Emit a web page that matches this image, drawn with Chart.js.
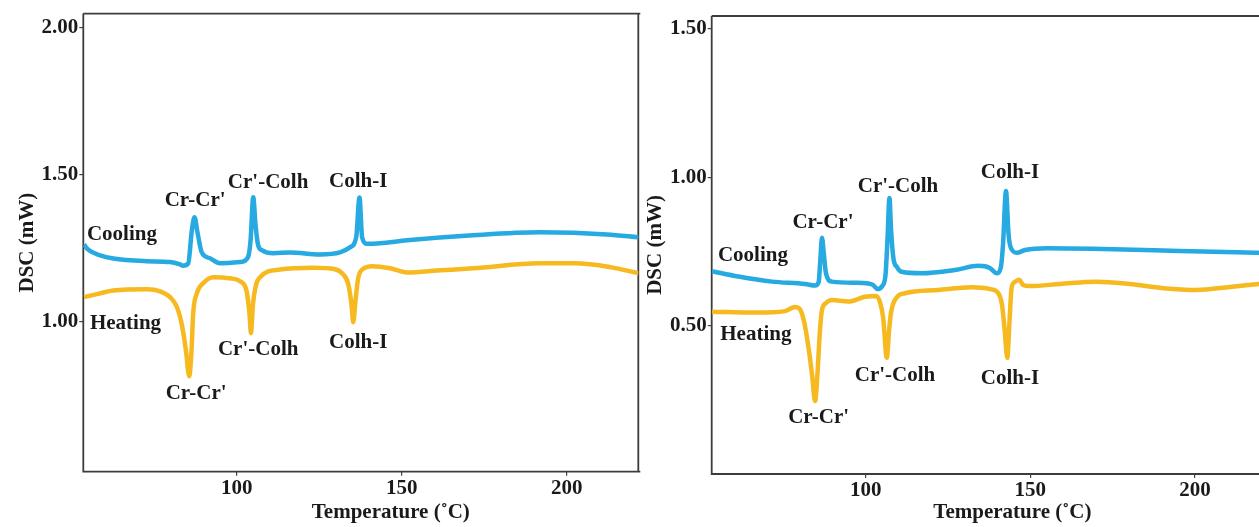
<!DOCTYPE html>
<html>
<head>
<meta charset="utf-8">
<script src="https://cdn.jsdelivr.net/npm/chart.js@4.4.0/dist/chart.umd.min.js"></script>
<style>
  html, body { margin: 0; padding: 0; background: #fff; width: 1259px; height: 527px; overflow: hidden; }
  canvas { position: absolute; top: 0; }
  #dscA { left: 0; }
  #dscB { left: 628px; }
</style>
</head>
<body>
<canvas id="dscA" width="645" height="527"></canvas>
<canvas id="dscB" width="640" height="527"></canvas>
<script>
// ---- Panel A: cooling and heating scans ----
const tempCoolA = [53.7, 54.9, 58.6, 62.6, 72.7, 79.8, 82.8, 83.7, 85.3, 86.4, 87.2, 88.1, 89.4, 91.9, 94.9,
  101.0, 103.4, 104.2, 105.0, 105.7, 106.5, 107.7, 111.1, 116.2, 125.2, 131.3, 134.3, 136.2, 137.2, 138.0,
  139.5, 143.4, 151.6, 171.6, 191.9, 212.2, 221.9];
const dscCoolA = [1.263, 1.246, 1.226, 1.215, 1.206, 1.203, 1.195, 1.191, 1.199, 1.311, 1.355, 1.304, 1.236, 1.216, 1.199,
  1.203, 1.219, 1.277, 1.423, 1.328, 1.260, 1.243, 1.233, 1.236, 1.229, 1.236, 1.253, 1.287, 1.422, 1.287,
  1.265, 1.267, 1.277, 1.294, 1.304, 1.297, 1.287];
const tempHeatA = [53.7, 58.6, 62.5, 72.8, 76.8, 79.8, 81.9, 83.4, 84.6, 85.6, 86.3, 86.8, 87.9, 89.8, 92.9,
  98.0, 101.0, 103.0, 103.9, 104.3, 104.9, 105.8, 107.1, 113.1, 123.2, 129.8, 132.2, 133.8, 134.8, 135.3,
  136.0, 136.8, 138.6, 141.0, 146.5, 151.6, 161.6, 171.7, 192.0, 202.6, 213.2, 221.9];
const dscHeatA = [1.084, 1.097, 1.107, 1.111, 1.104, 1.084, 1.050, 0.989, 0.904, 0.816, 0.904, 1.029, 1.097, 1.131, 1.152,
  1.148, 1.138, 1.104, 1.023, 0.962, 1.057, 1.124, 1.152, 1.178, 1.184, 1.179, 1.162, 1.128, 1.057, 0.999,
  1.073, 1.148, 1.182, 1.189, 1.182, 1.168, 1.175, 1.182, 1.199, 1.199, 1.186, 1.165];
const xTicksA = [100, 150, 200];
const yTicksA = [1.00, 1.50, 2.00];

// ---- Panel B: cooling and heating scans ----
const tempCoolB = [53.2, 61.3, 71.5, 81.6, 84.6, 85.7, 86.2, 86.7, 87.3, 87.9, 89.7, 96.8, 100.8, 102.2, 103.6,
  105.0, 106.0, 106.6, 107.2, 107.7, 108.4, 109.5, 110.9, 117.0, 127.1, 134.2, 137.7, 139.8, 141.0, 141.7,
  142.6, 143.4, 144.1, 145.9, 148.4, 155.0, 175.2, 195.4, 221.3];
const dscCoolB = [0.684, 0.666, 0.649, 0.641, 0.636, 0.648, 0.722, 0.796, 0.738, 0.678, 0.649, 0.645, 0.643, 0.638, 0.624,
  0.634, 0.671, 0.789, 0.930, 0.822, 0.728, 0.698, 0.682, 0.677, 0.688, 0.702, 0.695, 0.677, 0.695, 0.772,
  0.953, 0.806, 0.762, 0.746, 0.755, 0.761, 0.758, 0.752, 0.745];
const tempHeatB = [53.2, 66.4, 75.5, 78.5, 80.0, 81.3, 82.5, 83.7, 84.6, 85.4, 86.0, 86.7, 87.9, 89.7, 94.7,
  99.8, 103.1, 104.3, 105.3, 106.4, 107.1, 107.7, 109.4, 111.9, 122.0, 132.2, 137.8, 140.3, 141.4, 142.2,
  143.0, 143.7, 144.3, 145.3, 146.6, 147.8, 149.9, 159.0, 170.1, 180.2, 190.4, 200.5, 210.6, 221.3];
const dscHeatB = [0.548, 0.545, 0.550, 0.564, 0.557, 0.513, 0.436, 0.335, 0.248, 0.352, 0.470, 0.554, 0.577, 0.587, 0.582,
  0.598, 0.601, 0.581, 0.527, 0.393, 0.487, 0.547, 0.596, 0.610, 0.621, 0.630, 0.624, 0.610, 0.571, 0.487,
  0.393, 0.520, 0.628, 0.648, 0.655, 0.638, 0.634, 0.641, 0.649, 0.641, 0.627, 0.621, 0.631, 0.644];
const xTicksB = [100, 150, 200];
const yTicksB = [0.50, 1.00, 1.50];

// Transition labels, placed in data coordinates
const notesA = [
  { text: 'Cooling',  x: 54.6,  y: 1.297, align: 'left' },
  { text: "Cr-Cr'",   x: 87.4,  y: 1.413, align: 'center' },
  { text: "Cr'-Colh", x: 109.5, y: 1.474, align: 'center' },
  { text: 'Colh-I',   x: 136.8, y: 1.477, align: 'center' },
  { text: 'Heating',  x: 55.5,  y: 0.996, align: 'left' },
  { text: "Cr'-Colh", x: 106.5, y: 0.907, align: 'center' },
  { text: "Cr-Cr'",   x: 87.7,  y: 0.758, align: 'center' },
  { text: 'Colh-I',   x: 136.8, y: 0.931, align: 'center' }
];
const notesB = [
  { text: 'Cooling',  x: 55.1,  y: 0.738, align: 'left' },
  { text: "Cr-Cr'",   x: 87.0,  y: 0.846, align: 'center' },
  { text: "Cr'-Colh", x: 109.8, y: 0.967, align: 'center' },
  { text: 'Colh-I',   x: 143.8, y: 1.014, align: 'center' },
  { text: 'Heating',  x: 55.8,  y: 0.470, align: 'left' },
  { text: "Cr'-Colh", x: 108.9, y: 0.332, align: 'center' },
  { text: "Cr-Cr'",   x: 85.7,  y: 0.191, align: 'center' },
  { text: 'Colh-I',   x: 143.8, y: 0.325, align: 'center' }
];

const SERIF = '"Liberation Serif", "Times New Roman", serif';
const BLUE = '#27a9e1';
const GOLD = '#f6b920';
const INK = '#1a1a1a';

const zip = (xs, ys) => xs.map((x, i) => ({ x, y: ys[i] }));

// Box around the plot area; the right side can be left open
function framePlugin(drawRight) {
  return {
    id: 'frame',
    beforeDatasetsDraw(chart) {
      const { ctx, chartArea: a } = chart;
      ctx.save();
      ctx.strokeStyle = '#3c3c3c';
      ctx.lineWidth = 1.8;
      ctx.beginPath();
      if (drawRight) {
        ctx.moveTo(a.right, a.top);
        ctx.lineTo(a.right, a.bottom);
      }
      ctx.moveTo(a.left, a.top);
      ctx.lineTo(a.right + 2, a.top);
      ctx.moveTo(a.left, a.top);
      ctx.lineTo(a.left, a.bottom);
      ctx.lineTo(a.right + 2, a.bottom);
      ctx.stroke();
      ctx.restore();
    }
  };
}

// Transition labels plus the temperature axis title (set a little right of centre)
function notesPlugin(notes, titleShift) {
  return {
    id: 'notes',
    afterDatasetsDraw(chart) {
      const { ctx, scales, chartArea: a } = chart;
      ctx.save();
      ctx.font = 'bold 21px ' + SERIF;
      ctx.fillStyle = INK;
      ctx.textBaseline = 'middle';
      notes.forEach(n => {
        ctx.textAlign = n.align;
        ctx.fillText(n.text, scales.x.getPixelForValue(n.x), scales.y.getPixelForValue(n.y));
      });
      ctx.textAlign = 'center';
      ctx.fillText('Temperature (˚C)', (a.left + a.right) / 2 + titleShift, 513);
      ctx.restore();
    }
  };
}

function makePanel(canvasId, cool, heat, xr, yr, xTicks, yTicks, notes, box) {
  const tickFont = { family: SERIF, size: 21, weight: 'bold' };
  const titleFont = { family: SERIF, size: 21, weight: 'bold' };
  return new Chart(document.getElementById(canvasId), {
    type: 'line',
    data: {
      datasets: [
        { label: 'Cooling', data: cool, borderColor: BLUE, borderWidth: 4.5, pointRadius: 0,
          cubicInterpolationMode: 'monotone', fill: false },
        { label: 'Heating', data: heat, borderColor: GOLD, borderWidth: 4.5, pointRadius: 0,
          cubicInterpolationMode: 'monotone', fill: false }
      ]
    },
    options: {
      responsive: false,
      animation: false,
      devicePixelRatio: 1,
      layout: { padding: { left: 0, top: box.top, right: box.right, bottom: 0 } },
      plugins: { legend: { display: false }, tooltip: { enabled: false } },
      scales: {
        x: {
          type: 'linear', min: xr[0], max: xr[1],
          afterBuildTicks: s => { s.ticks = xTicks.map(v => ({ value: v })); },
          afterFit: s => { s.height = box.xh; },
          border: { display: false },
          grid: { drawOnChartArea: false, drawTicks: true, tickLength: 4, color: '#444', lineWidth: 1.2 },
          ticks: { font: tickFont, color: INK, padding: 0, maxRotation: 0, callback: v => String(v) },
          title: { display: false }
        },
        y: {
          type: 'linear', min: yr[0], max: yr[1],
          afterBuildTicks: s => { s.ticks = yTicks.map(v => ({ value: v })); },
          afterFit: s => { s.width = box.yw; },
          border: { display: false },
          grid: { drawOnChartArea: false, drawTicks: true, tickLength: 4, color: '#444', lineWidth: 1.2 },
          ticks: { font: tickFont, color: INK, padding: 1, callback: v => Number(v).toFixed(2) },
          title: { display: true, text: 'DSC (mW)', font: titleFont, color: INK,
                   padding: { top: 15, bottom: 0 } }
        }
      }
    },
    plugins: [framePlugin(box.rightEdge), notesPlugin(notes, box.titleShift)]
  });
}

makePanel('dscA', zip(tempCoolA, dscCoolA), zip(tempHeatA, dscHeatA),
  [53.5, 221.7], [0.492, 2.046], xTicksA, yTicksA, notesA,
  { top: 13, right: 6.7, xh: 55.3, yw: 83.3, rightEdge: true, titleShift: 30 });

makePanel('dscB', zip(tempCoolB, dscCoolB), zip(tempHeatB, dscHeatB),
  [53.2, 221.3], [0.003, 1.541], xTicksB, yTicksB, notesB,
  { top: 16, right: 3, xh: 53, yw: 83.7, rightEdge: false, titleShift: 24 });
</script>
</body>
</html>
